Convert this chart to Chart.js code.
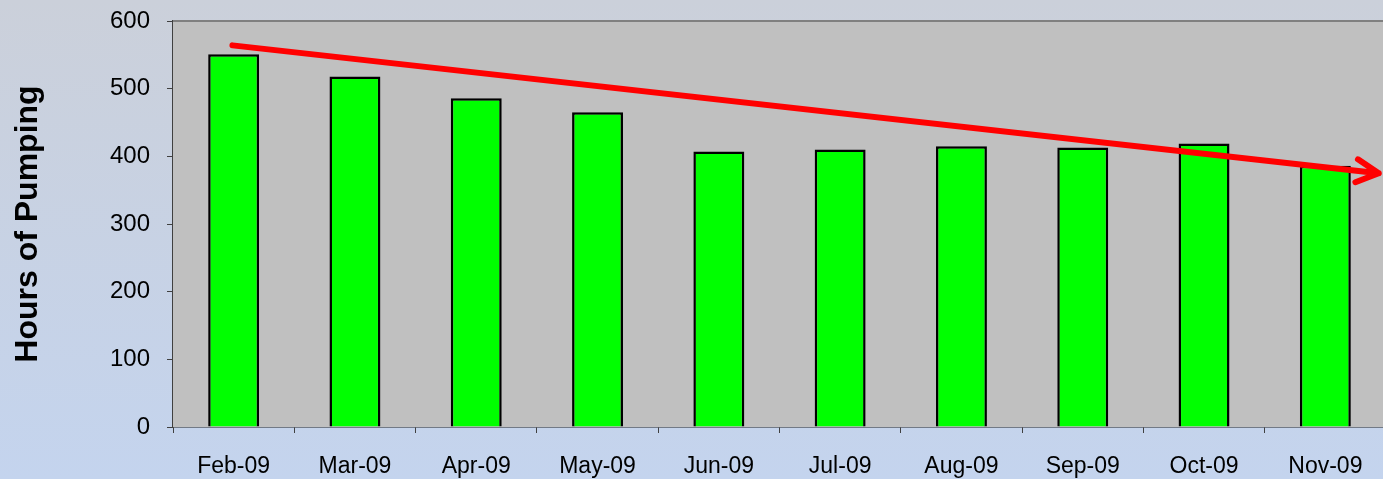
<!DOCTYPE html>
<html>
<head>
<meta charset="utf-8">
<script src="https://cdn.jsdelivr.net/npm/chart.js@4"></script>
<style>
    html, body { margin: 0; padding: 0; overflow: hidden; }
    body { width: 1383px; height: 479px; background: linear-gradient(to bottom, #cbd0da, #c4d4ee); }
    .wrap { width: 1386px; height: 479px; position: relative; }
</style>
</head>
<body>
<div class="wrap"><canvas id="chart1"></canvas></div>
<script>
/** Initialisation */
Chart.defaults.font.family = '"Liberation Sans", Arial, Helvetica, sans-serif';
Chart.defaults.font.weight = '400';
Chart.defaults.color = '#000000';

const months = ['Feb-09', 'Mar-09', 'Apr-09', 'May-09', 'Jun-09', 'Jul-09', 'Aug-09', 'Sep-09', 'Oct-09', 'Nov-09'];
const hours = [551, 518, 486, 465, 407, 410, 415, 413, 419, 386];
const yTicks = [0, 100, 200, 300, 400, 500, 600];
// trend arrow : start / end as [category index, hours]
const trendStart = [-0.01, 564];
const trendEnd = [9.44, 375];

/** Plot background + top border */
const plotBackground = {
    id: 'plotBackground',
    beforeDatasetsDraw(chart) {
        const { ctx, chartArea: a } = chart;
        ctx.save();
        ctx.fillStyle = '#c0c0c0';
        ctx.fillRect(a.left, a.top, a.right - a.left, a.bottom - a.top);
        ctx.strokeStyle = '#808080';
        ctx.lineWidth = 2;
        ctx.beginPath();
        ctx.moveTo(a.left, a.top);
        ctx.lineTo(a.right, a.top);
        ctx.stroke();
        ctx.restore();
    }
};

/** Red trend arrow */
const trendArrow = {
    id: 'trendArrow',
    afterDatasetsDraw(chart) {
        const { ctx, scales: { x, y } } = chart;
        const x1 = x.getPixelForValue(trendStart[0]), y1 = y.getPixelForValue(trendStart[1]);
        const x2 = x.getPixelForValue(trendEnd[0]), y2 = y.getPixelForValue(trendEnd[1]);
        const ang = Math.atan2(y2 - y1, x2 - x1);
        const head = 25;
        ctx.save();
        ctx.strokeStyle = '#ff0000';
        ctx.lineWidth = 6;
        ctx.lineCap = 'round';
        ctx.lineJoin = 'round';
        ctx.beginPath();
        ctx.moveTo(x1, y1);
        ctx.lineTo(x2, y2);
        ctx.moveTo(x2 - head * Math.cos(ang - 0.48), y2 - head * Math.sin(ang - 0.48));
        ctx.lineTo(x2, y2);
        ctx.lineTo(x2 - head * Math.cos(ang + 0.48), y2 - head * Math.sin(ang + 0.48));
        ctx.stroke();
        ctx.restore();
    }
};

generateChart = (id, config) => new Chart(document.getElementById(id), config)

generateChart('chart1', {
    type: 'bar',
    data: {
        labels: months,
        datasets: [{
            label: 'Hours of Pumping',
            data: hours,
            backgroundColor: '#00ff00',
            borderColor: '#000000',
            borderWidth: 2.5,
            categoryPercentage: 1,
            barPercentage: 0.42
        }]
    },
    options: {
        animation: false,
        layout: {
            padding: 0
        },
        plugins: {
            legend: { display: false },
            title: { display: false },
            tooltip: { enabled: false }
        },
        scales: {
            x: {
                grid: {
                    offset: true,
                    drawOnChartArea: false,
                    tickLength: 6,
                    color: '#404040'
                },
                border: { color: '#202020', width: 1.5 },
                ticks: {
                    font: { size: 23 },
                    padding: 20,
                    maxRotation: 0
                },
                afterFit: s => { s.height = 52 }
            },
            y: {
                min: 0,
                max: 600,
                afterBuildTicks: s => { s.ticks = yTicks.map(v => ({ value: v })) },
                grid: {
                    drawOnChartArea: false,
                    tickLength: 6,
                    color: '#404040'
                },
                border: { color: '#404040', width: 1.5 },
                ticks: {
                    font: { size: 24 },
                    padding: 17
                },
                title: {
                    display: true,
                    text: 'Hours of Pumping',
                    font: { size: 32, weight: 'bold' },
                    padding: { top: 9, bottom: 0 }
                },
                afterFit: s => { s.width = 173; s.paddingTop = 21; s.paddingBottom = 0 }
            }
        },
        responsive: true,
        maintainAspectRatio: false
    },
    plugins: [plotBackground, trendArrow]
})
</script>
</body>
</html>
